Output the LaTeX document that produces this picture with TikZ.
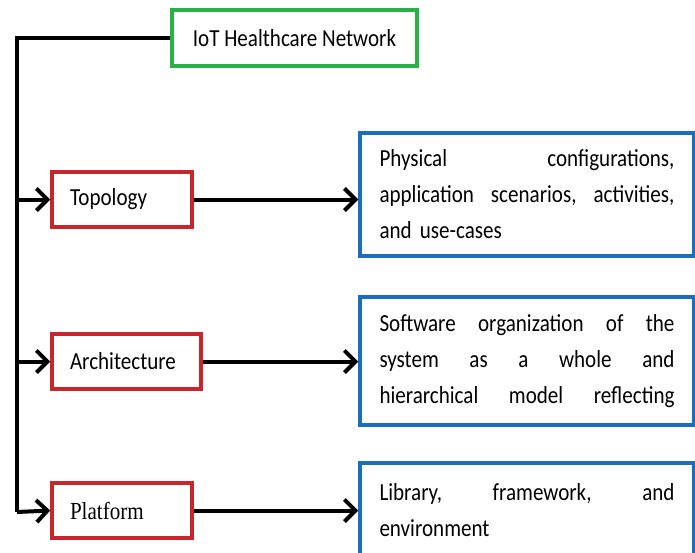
\documentclass[tikz,border=0pt]{standalone}
\usepackage{fontspec}
\setmainfont{Carlito}[FakeStretch=0.86]
\newfontfamily\platfont{Liberation Serif}[FakeStretch=0.86]
\usetikzlibrary{arrows.meta}
\definecolor{netgreen}{RGB}{40,178,70}
\definecolor{partred}{RGB}{200,38,42}
\definecolor{descblue}{RGB}{25,110,190}
\begin{document}
\begin{tikzpicture}[x=1pt,y=-1pt,
	font=\fontsize{24.5}{36}\selectfont,
	box/.style={draw, line width=3.5pt, inner ysep=0pt, align=left},
	netbox/.style={box, draw=netgreen, minimum width=245pt, minimum height=56pt, align=center},
	partbox/.style={box, draw=partred, inner xsep=18pt, minimum height=55pt},
	descbox/.style={box, draw=descblue, inner xsep=19.5pt, text width=295pt},
	wire/.style={line width=4pt},
	arrow/.style={wire, -{Straight Barb[length=11pt,width=22pt]}}
]
	\clip (0,0) rectangle (695,552);
	
	\node[netbox] (net) at (294.5,38) {IoT Healthcare Network};
	
	\node[partbox, text width=104pt] (topo) at (122,199.5) {Topology};
	\node[partbox, text width=113pt] (arch) at (126.5,361.5) {Architecture};
	\node[partbox, text width=104pt] (plat) at (122,510.5) {\platfont Platform};
	
	\node[descbox, minimum height=123pt] (phys) at (527,194.5)
	{\makebox[295pt][l]{Physical\hfill configurations,}\\
	 \makebox[295pt][l]{application\hfill scenarios,\hfill activities,}\\
	 and use-cases};
	\node[descbox, minimum height=128pt] (soft) at (527,361)
	{\makebox[295pt][l]{Software\hfill organization\hfill of\hfill the}\\
	 \makebox[295pt][l]{system\hfill as\hfill a\hfill whole\hfill and}\\
	 \makebox[295pt][l]{hierarchical\hfill model\hfill reflecting}};
	\node[descbox, minimum height=94pt] (lib) at (527,510)
	{\makebox[295pt][l]{Library,\hfill framework,\hfill and}\\
	 environment};
	
	\coordinate (spinetop) at (17,38);
	\coordinate (spinebot) at (17,512);
	\draw[wire] (net.west) -- (spinetop) -- (spinebot);
	
	\draw[arrow] (spinetop |- topo.west) -- (topo.west);
	\draw[arrow] (spinetop |- arch.west) -- (arch.west);
	\draw[arrow] (spinebot) -- (plat.west);
	
	\draw[arrow] (topo.east) -- (topo.east -| phys.west);
	\draw[arrow] (arch.east) -- (arch.east -| soft.west);
	\draw[arrow] (plat.east) -- (plat.east -| lib.west);
	
\end{tikzpicture}
\end{document}
